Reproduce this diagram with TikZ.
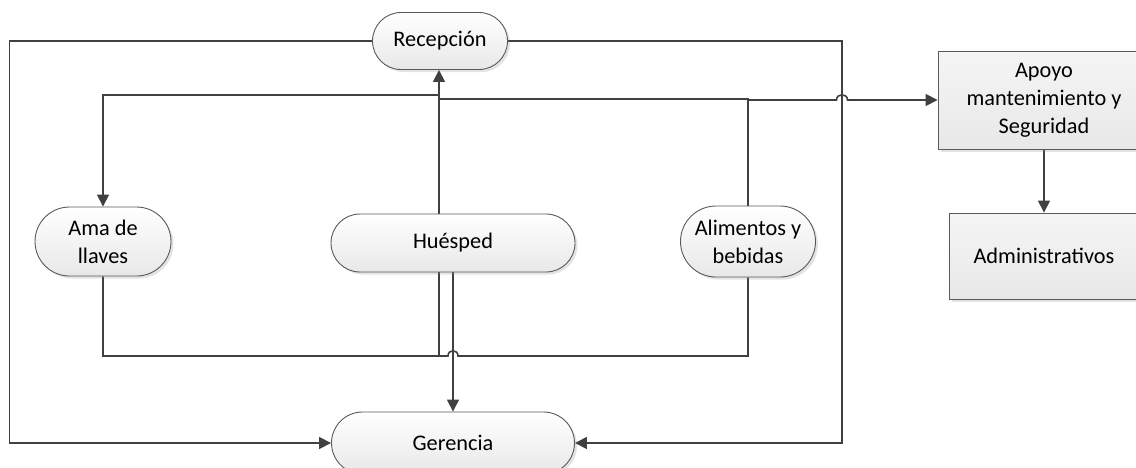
\documentclass[tikz,border=0pt]{standalone}
\usepackage{fontspec}
\setmainfont{Carlito}
\usetikzlibrary{shapes.misc,shadows,arrows.meta}
\pgfdeclarelayer{wires}
\pgfsetlayers{wires,main}
\definecolor{wirecol}{HTML}{404040}
\definecolor{rimcol}{HTML}{5A5A5A}
\tikzset{
  label font/.style={font=\fontsize{22.3}{28}\selectfont, text=black},
  pill/.style={rounded rectangle, draw=rimcol, line width=0.9pt,
    top color=white, bottom color=black!9, align=center, inner sep=0pt,
    drop shadow={shadow xshift=2.5pt, shadow yshift=-2.5pt, opacity=0.22},
    label font},
  panel/.style={rectangle, draw=rimcol, line width=0.9pt,
    top color=black!4, bottom color=black!9, align=center, inner sep=0pt,
    drop shadow={shadow xshift=2.5pt, shadow yshift=-2.5pt, opacity=0.22},
    label font},
  wire/.style={draw=wirecol, line width=1.6pt},
  flow/.style={wire, -{Triangle[length=12pt,width=12pt]}},
}
\begin{document}
\begin{tikzpicture}[x=1pt,y=-1pt]
\clip (0,0) rectangle (1136,467);
\useasboundingbox (0,0) rectangle (1136,467);

% departments
\node[pill, minimum width=135pt, minimum height=57pt]  (rec) at (440,41)    {Recepción};
\node[pill, minimum width=244pt, minimum height=58pt]  (hue) at (453,243)   {Huésped};
\node[pill, minimum width=136pt, minimum height=69pt]  (ama) at (103,241.5) {Ama de\\llaves};
\node[pill, minimum width=135pt, minimum height=71pt]  (ali) at (748,241.5) {Alimentos y\\bebidas};
\node[pill, minimum width=243pt, minimum height=62pt]  (ger) at (453,443)   {Gerencia};
\node[panel, minimum width=212pt, minimum height=98pt] (apo) at (1044,100)  {Apoyo\\mantenimiento y\\Seguridad};
\node[panel, minimum width=190pt, minimum height=86pt] (adm) at (1044,256)  {Administrativos};

% bend and junction points
\coordinate (lt) at (9.5,41);
\coordinate (rt) at (842,41);
\coordinate (jb) at (439,356);
\coordinate (ja) at (439,95);
\coordinate (jc) at (439,99);
\coordinate (ap) at (748,100);

\begin{pgfonlayer}{wires}
  % outer loop from Recepción to Gerencia
  \draw[flow] (rec.west) -- (lt) |- (ger.west);
  \draw[flow] (rec.east) -- (rt) |- (ger.east);
  % Huésped up to Recepción
  \draw[flow] (jb) -- (jb |- rec.south);
  % branch to Ama de llaves
  \draw[flow] (ja) -| (ama.north);
  % branch to Alimentos y bebidas
  \draw[wire] (jc) -| (ali.north);
  % on to Apoyo, hopping over the outer loop
  \draw[flow] (ap) -- (836.5,100) .. controls (836.5,93) and (847.5,93) .. (847.5,100) -- (apo.west);
  % bottom link between Ama de llaves and Alimentos y bebidas
  \draw[wire] (ama.south) |- (jb) -- (448,356) .. controls (448,349) and (458,349) .. (458,356) -| (ali.south);
  % Huésped down to Gerencia
  \draw[flow] (hue.south) -- (ger.north);
  % Apoyo down to Administrativos
  \draw[flow] (apo.south) -- (adm.north);
\end{pgfonlayer}
\end{tikzpicture}
\end{document}
